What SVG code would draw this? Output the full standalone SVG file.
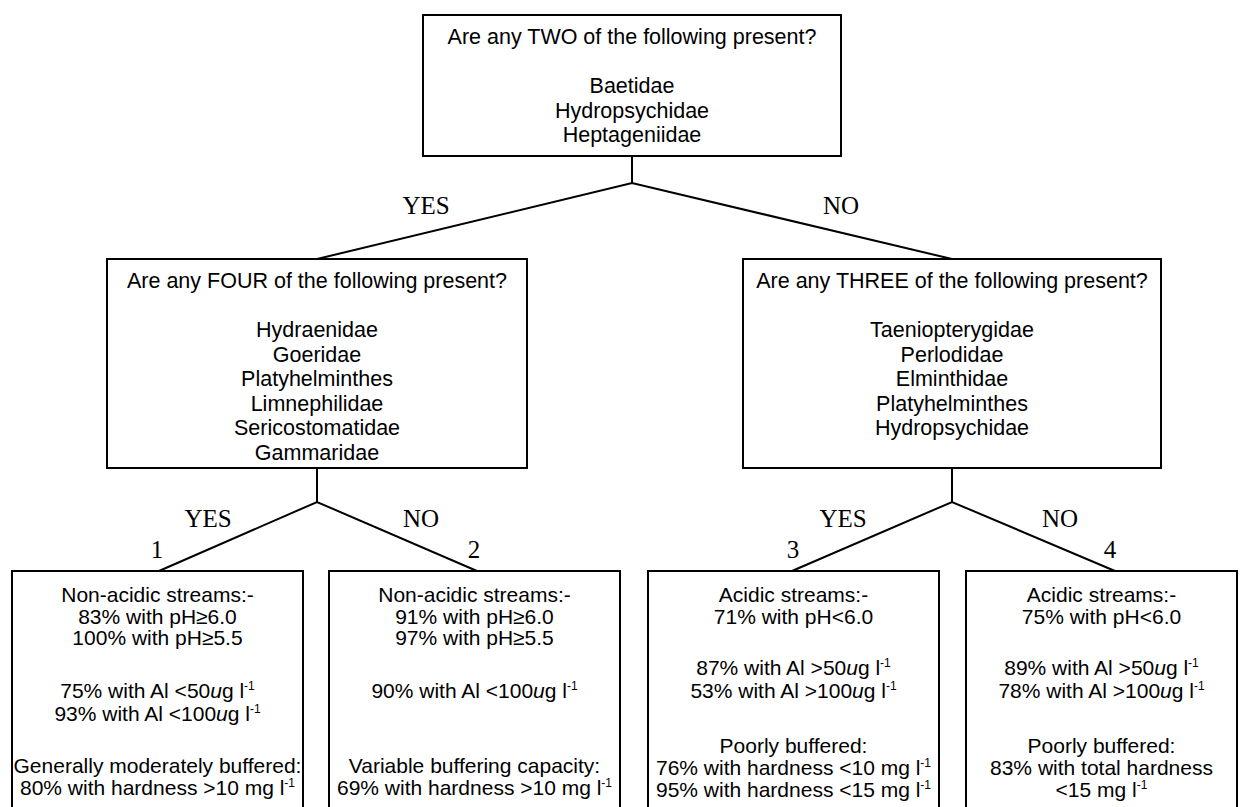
<svg xmlns="http://www.w3.org/2000/svg" width="1248" height="807" viewBox="0 0 1248 807">
<style>
.box{fill:#fff;stroke:#000;stroke-width:2}
.t{font-family:"Liberation Sans",Arial,sans-serif;font-size:21px;fill:#000;text-anchor:middle}
.q{font-size:21.5px}
.lb{font-family:"Liberation Serif","Times New Roman",serif;font-size:25px;fill:#000;text-anchor:middle}
.c{stroke:#000;stroke-width:2;fill:none}
.i{font-style:italic}
.sup{font-size:12px}
</style>
<rect width="1248" height="807" fill="#fff"/>
<g id="connectors">
<polyline class="c" points="632,156 632,183"/>
<polyline class="c" points="317,259 632,183 952,259"/>
<polyline class="c" points="317,468 317,502"/>
<polyline class="c" points="159,571 317,502 477,571"/>
<polyline class="c" points="952,468 952,502"/>
<polyline class="c" points="792,571 952,502 1115,571"/>
<text class="lb" x="426" y="214">YES</text>
<text class="lb" x="841" y="214">NO</text>
<text class="lb" x="208" y="527">YES</text>
<text class="lb" x="421" y="527">NO</text>
<text class="lb" x="157" y="558">1</text>
<text class="lb" x="474" y="558">2</text>
<text class="lb" x="843" y="527">YES</text>
<text class="lb" x="1060" y="527">NO</text>
<text class="lb" x="793" y="558">3</text>
<text class="lb" x="1110" y="558">4</text>
</g>
<g id="q1">
<rect class="box" x="423" y="15" width="418" height="141"/>
<text class="t q" x="632" y="44">Are any TWO of the following present?</text>
<text class="t q" x="632" y="93">Baetidae</text>
<text class="t q" x="632" y="117.5">Hydropsychidae</text>
<text class="t q" x="632" y="142">Heptageniidae</text>
</g>
<g id="q2">
<rect class="box" x="107" y="259" width="420" height="209"/>
<text class="t q" x="317" y="288">Are any FOUR of the following present?</text>
<text class="t q" x="317" y="337">Hydraenidae</text>
<text class="t q" x="317" y="361.5">Goeridae</text>
<text class="t q" x="317" y="386">Platyhelminthes</text>
<text class="t q" x="317" y="410.5">Limnephilidae</text>
<text class="t q" x="317" y="435">Sericostomatidae</text>
<text class="t q" x="317" y="459.5">Gammaridae</text>
</g>
<g id="q3">
<rect class="box" x="743" y="259" width="418" height="209"/>
<text class="t q" x="952" y="288">Are any THREE of the following present?</text>
<text class="t q" x="952" y="337">Taeniopterygidae</text>
<text class="t q" x="952" y="361.5">Perlodidae</text>
<text class="t q" x="952" y="386">Elminthidae</text>
<text class="t q" x="952" y="410.5">Platyhelminthes</text>
<text class="t q" x="952" y="435">Hydropsychidae</text>
</g>
<g id="leaf1">
<rect class="box" x="12" y="571" width="291" height="240"/>
<text class="t" x="157.5" y="602">Non-acidic streams:-</text>
<text class="t" x="157.5" y="623.5">83% with pH≥6.0</text>
<text class="t" x="157.5" y="645">100% with pH≥5.5</text>
<text class="t" x="157.5" y="698">75% with Al &lt;50<tspan class="i">u</tspan>g l<tspan class="sup" dy="-8">-1</tspan></text>
<text class="t" x="157.5" y="721">93% with Al &lt;100<tspan class="i">u</tspan>g l<tspan class="sup" dy="-8">-1</tspan></text>
<text class="t" x="157.5" y="773">Generally moderately buffered:</text>
<text class="t" x="157.5" y="795">80% with hardness &gt;10 mg l<tspan class="sup" dy="-8">-1</tspan></text>
</g>
<g id="leaf2">
<rect class="box" x="329" y="571" width="291" height="240"/>
<text class="t" x="474.5" y="602">Non-acidic streams:-</text>
<text class="t" x="474.5" y="623.5">91% with pH≥6.0</text>
<text class="t" x="474.5" y="645">97% with pH≥5.5</text>
<text class="t" x="474.5" y="698">90% with Al &lt;100<tspan class="i">u</tspan>g l<tspan class="sup" dy="-8">-1</tspan></text>
<text class="t" x="474.5" y="773">Variable buffering capacity:</text>
<text class="t" x="474.5" y="795">69% with hardness &gt;10 mg l<tspan class="sup" dy="-8">-1</tspan></text>
</g>
<g id="leaf3">
<rect class="box" x="648" y="571" width="291" height="240"/>
<text class="t" x="793.5" y="602">Acidic streams:-</text>
<text class="t" x="793.5" y="623.5">71% with pH&lt;6.0</text>
<text class="t" x="793.5" y="675">87% with Al &gt;50<tspan class="i">u</tspan>g l<tspan class="sup" dy="-8">-1</tspan></text>
<text class="t" x="793.5" y="698">53% with Al &gt;100<tspan class="i">u</tspan>g l<tspan class="sup" dy="-8">-1</tspan></text>
<text class="t" x="793.5" y="753">Poorly buffered:</text>
<text class="t" x="793.5" y="775">76% with hardness &lt;10 mg l<tspan class="sup" dy="-8">-1</tspan></text>
<text class="t" x="793.5" y="797">95% with hardness &lt;15 mg l<tspan class="sup" dy="-8">-1</tspan></text>
</g>
<g id="leaf4">
<rect class="box" x="966" y="571" width="271" height="240"/>
<text class="t" x="1101.5" y="602">Acidic streams:-</text>
<text class="t" x="1101.5" y="623.5">75% with pH&lt;6.0</text>
<text class="t" x="1101.5" y="675">89% with Al &gt;50<tspan class="i">u</tspan>g l<tspan class="sup" dy="-8">-1</tspan></text>
<text class="t" x="1101.5" y="698">78% with Al &gt;100<tspan class="i">u</tspan>g l<tspan class="sup" dy="-8">-1</tspan></text>
<text class="t" x="1101.5" y="753">Poorly buffered:</text>
<text class="t" x="1101.5" y="775">83% with total hardness</text>
<text class="t" x="1101.5" y="797">&lt;15 mg l<tspan class="sup" dy="-8">-1</tspan></text>
</g>
</svg>
